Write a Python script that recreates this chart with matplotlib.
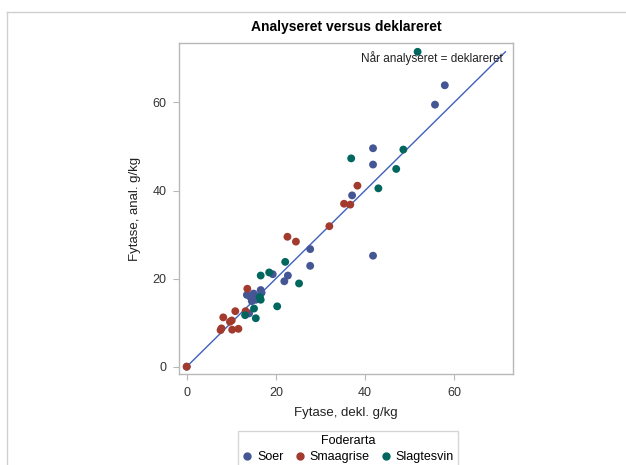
import matplotlib
matplotlib.use("Agg")
import matplotlib.pyplot as plt
from matplotlib.lines import Line2D

plt.rcParams['font.family'] = ['Liberation Sans', 'DejaVu Sans']

# Fytase, deklareret vs analyseret (g/kg) pr. foderart
soer_dekl = [57.9, 55.7, 41.8, 41.8, 37.1, 27.7, 27.7, 41.8, 22.7, 21.9, 19.3, 16.6,
             13.5, 14.3, 15.0, 15.5, 16.3, 16.8, 14.6, 14.0, 0.0]
soer_anal = [63.9, 59.5, 49.6, 45.9, 38.9, 26.7, 22.9, 25.2, 20.7, 19.4, 21.0, 17.4,
             16.3, 15.8, 16.6, 15.2, 16.0, 16.8, 14.9, 12.1, 0.0]

smaa_dekl = [38.3, 35.3, 36.7, 32.0, 22.6, 24.5, 13.6, 10.9, 13.2, 8.2, 9.7, 10.1,
             7.8, 7.6, 10.2, 11.6, 0.0]
smaa_anal = [41.1, 37.0, 36.8, 31.9, 29.5, 28.4, 17.7, 12.6, 12.6, 11.2, 10.2, 10.5,
             8.7, 8.3, 8.4, 8.6, 0.0]

slagt_dekl = [51.8, 48.6, 36.9, 47.0, 43.0, 22.1, 16.6, 18.5, 25.2, 20.3, 16.6, 15.1,
              13.1, 15.5, 16.4]
slagt_anal = [71.5, 49.3, 47.3, 44.9, 40.5, 23.8, 20.7, 21.4, 18.9, 13.7, 15.2, 13.2,
              11.7, 11.0, 15.8]

groups = ["Soer", "Smaagrise", "Slagtesvin"]
colors = ["#445694", "#A23A2E", "#01665E"]
line_max = 71.5

fig = plt.figure(figsize=(6.26, 4.65), dpi=100)
ax = fig.add_axes([179 / 626, 91 / 465, 334 / 626, 331 / 465])

for gx, gy, name, col in zip([soer_dekl, smaa_dekl, slagt_dekl],
                             [soer_anal, smaa_anal, slagt_anal], groups, colors):
    ax.scatter(gx, gy, s=32, color=col, edgecolors="none", label=name, zorder=3)

ax.plot([0, line_max], [0, line_max], color="#3F60BE", lw=1.0, zorder=2)
ax.text(70.9, 70.1, "Når analyseret = deklareret", ha="right", va="center",
        fontsize=8.5, color="#222222")

ax.set_xlim(-1.73, 73.2)
ax.set_ylim(-1.66, 73.5)
ax.set_xticks([0, 20, 40, 60])
ax.set_yticks([0, 20, 40, 60])
for sp in ax.spines.values():
    sp.set_color("#b8b8b8")
    sp.set_linewidth(1.0)
ax.tick_params(colors="#b8b8b8", labelcolor="#333333", labelsize=9, length=4, pad=5)

ax.set_xlabel("Fytase, dekl. g/kg", fontsize=9.5, color="#222222", labelpad=6)
ax.set_ylabel("Fytase, anal. g/kg", fontsize=9.5, color="#222222", labelpad=8)
ax.set_title("Analyseret versus deklareret", fontsize=10, fontweight="bold", pad=9)

handles = [Line2D([], [], marker="o", ls="none", color=c, markersize=5) for c in colors]
leg = fig.legend(handles, groups, title="Foderarta", loc="center", ncol=3,
                 bbox_to_anchor=(348 / 626, 1 - 449 / 465), fontsize=9, title_fontsize=9,
                 frameon=True, fancybox=False, edgecolor="#cccccc", handletextpad=0.4,
                 columnspacing=0.9, handlelength=0.8, borderpad=0.35, labelspacing=0.3)
leg.get_frame().set_linewidth(1.0)

# outer frame lines
fig.add_artist(Line2D([7 / 626, 7 / 626], [0, 1 - 12 / 465], transform=fig.transFigure,
                      color="#d0d0d0", lw=1.0))
fig.add_artist(Line2D([7 / 626, 1], [1 - 12 / 465, 1 - 12 / 465], transform=fig.transFigure,
                      color="#d0d0d0", lw=1.0))

fig.savefig("out.png", dpi=100)
